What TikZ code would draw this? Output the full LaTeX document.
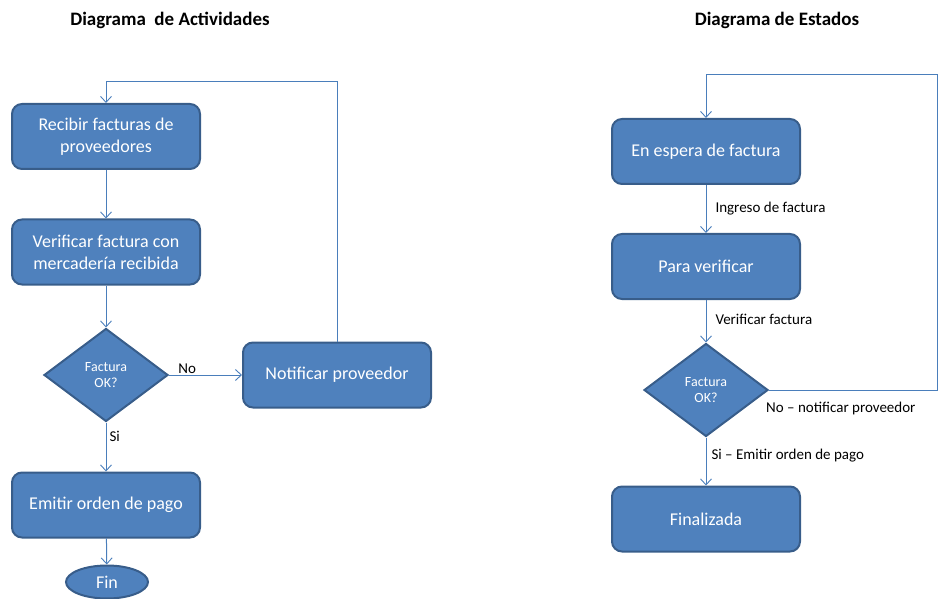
\documentclass[tikz,border=0pt]{standalone}
\usepackage{fontspec}
\setmainfont{Carlito}
\usetikzlibrary{shapes.geometric,arrows.meta}
\definecolor{boxfill}{HTML}{4F81BD}
\definecolor{boxedge}{HTML}{385D8A}
\definecolor{wire}{HTML}{4A7EBB}
\begin{document}
\begin{tikzpicture}[x=1pt,y=-1pt,
  stepbox/.style={draw=boxedge,fill=boxfill,line width=2pt,rounded corners=10pt,
    minimum width=188pt,minimum height=65pt,text=white,font=\fontsize{18}{22}\selectfont,
    align=center,inner sep=0pt},
  decision/.style={draw=boxedge,fill=boxfill,line width=2pt,diamond,aspect=1.33,
    minimum width=124pt,minimum height=93pt,inner sep=0pt,text=white,
    font=\fontsize{14}{16}\selectfont,align=center},
  terminal/.style={draw=boxedge,fill=boxfill,line width=2pt,ellipse,
    minimum width=82pt,minimum height=33pt,inner sep=0pt,text=white,
    font=\fontsize{18}{22}\selectfont},
  flow/.style={draw=wire,line width=1pt,-{Straight Barb[length=6pt,width=11pt,line width=0.9pt]}},
  lbl/.style={font=\fontsize{15}{18}\selectfont,text=black,inner sep=0pt},
  heading/.style={font=\bfseries\fontsize{19}{22}\selectfont,inner sep=0pt}]
\useasboundingbox (0,0) rectangle (938,599);

% ---- Diagrama de Actividades ----
\node[heading] (t1) at (170,20) {Diagrama\ \ de Actividades};
\node[stepbox] (recibir) at (106,136.5) {Recibir facturas de\\proveedores};
\node[stepbox] (verif) at (106,252) {Verificar factura con\\mercadería recibida};
\node[decision] (ok1) at (106,375) {Factura\\OK?};
\node[stepbox] (notif) at (337,375) {Notificar proveedor};
\node[stepbox] (emitir) at (106,505) {Emitir orden de pago};
\node[terminal] (fin) at (107,582) {Fin};
\coordinate (loopA) at (337,82);

\draw[flow] (recibir) -- (verif);
\draw[flow] (verif) -- (ok1);
\draw[flow] (ok1) -- node[lbl,above,yshift=1pt,pos=0.25] {No} (notif);
\draw[flow] (ok1) -- node[lbl,right,xshift=3pt,pos=0.28] {Si} (emitir);
\draw[flow] (emitir) -- (fin);
\draw[flow] (notif.north) -- (loopA) -| (recibir.north);

% ---- Diagrama de Estados ----
\node[heading] (t2) at (777,20) {Diagrama de Estados};
\node[stepbox] (espera) at (706,151.5) {En espera de factura};
\node[stepbox] (para) at (706,266.5) {Para verificar};
\node[decision] (ok2) at (706,390) {Factura\\OK?};
\node[stepbox] (final) at (706,519) {Finalizada};
\coordinate (edgeB) at (937,390);
\coordinate (edgeT) at (937,75);

\draw[flow] (espera) -- node[lbl,right,xshift=9pt] {Ingreso de factura} (para);
\draw[flow] (para) -- node[lbl,right,xshift=9pt,pos=0.45] {Verificar factura} (ok2);
\draw[flow] (ok2) -- node[lbl,right,xshift=5pt,pos=0.38] {Si – Emitir orden de pago} (final);
\draw[flow] (ok2.east) -- (edgeB) -- (edgeT) -| (espera.north);
\node[lbl,anchor=west] (nolbl) at (766,408) {No – notificar proveedor};
\end{tikzpicture}
\end{document}
